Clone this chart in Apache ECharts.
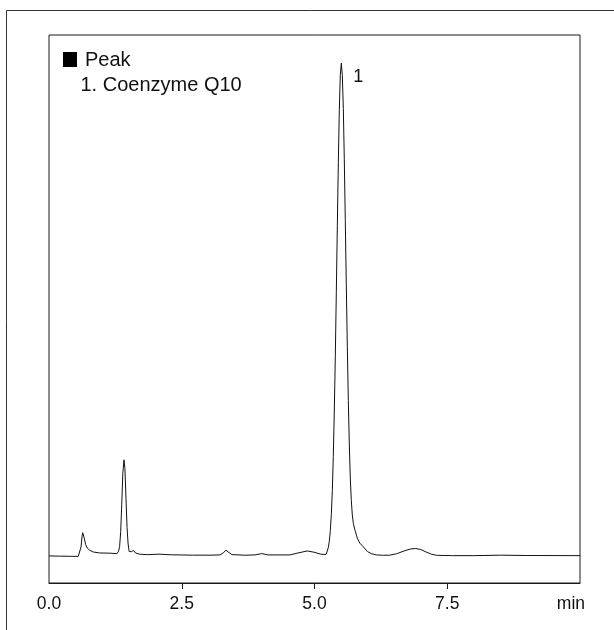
<!DOCTYPE html>
<html>
<head>
<meta charset="utf-8">
<title>Coenzyme Q10</title>
<script src="https://cdn.jsdelivr.net/npm/echarts@6/dist/echarts.min.js"></script>
<style>
    html, body { margin: 0; padding: 0; background: #fff; }
    #chart { width: 614px; height: 630px; }
</style>
</head>
<body>
<div id="chart"></div>
<script>
    // retention time (min) and detector signal (arbitrary, main peak = 100)
    const timeMin = [
        0.00, 0.20, 0.40, 0.55, 0.584, 0.603, 0.622, 0.635, 0.650, 0.668,
        0.690, 0.720, 0.760, 0.830, 0.950, 1.150, 1.280, 1.310, 1.330, 1.350,
        1.370, 1.390, 1.412, 1.430, 1.450, 1.470, 1.490, 1.510, 1.550, 1.590,
        1.630, 1.700, 1.850, 2.070, 2.300, 2.700, 3.050, 3.220, 3.280, 3.333,
        3.390, 3.446, 3.690, 3.880, 4.006, 4.124, 4.540, 4.670, 4.864, 4.990,
        5.120, 5.217, 5.241, 5.260, 5.279, 5.298, 5.317, 5.336, 5.354, 5.373,
        5.392, 5.411, 5.430, 5.449, 5.467, 5.486, 5.505, 5.524, 5.543, 5.561,
        5.580, 5.599, 5.618, 5.637, 5.656, 5.674, 5.693, 5.712, 5.731, 5.763,
        5.806, 5.853, 5.914, 5.995, 6.070, 6.164, 6.300, 6.420, 6.550, 6.700,
        6.800, 6.900, 7.000, 7.100, 7.200, 7.300, 7.600, 8.000, 8.500, 9.000,
        10.00
    ];
    const signal = [
        0.00, -0.05, -0.08, -0.10, 0.2, 1.8, 3.9, 4.7, 4.4, 3.4,
        2.3, 1.6, 1.2, 0.8, 0.6, 0.55, 0.45, 0.95, 1.9, 4.9,
        10.4, 16.7, 19.5, 17.7, 11.7, 5.8, 2.4, 0.9, 0.85, 1.1,
        0.6, 0.35, 0.25, 0.35, 0.22, 0.15, 0.15, 0.2, 0.6, 1.16,
        0.67, 0.26, 0.14, 0.2, 0.47, 0.2, 0.2, 0.55, 1.0, 0.75,
        0.34, 0.3, 1.0, 1.7, 3.0, 5.1, 8.4, 13.3, 20.2, 29.4,
        40.6, 53.5, 67.0, 79.8, 90.5, 97.6, 100, 97.5, 90.8, 80.5,
        68.0, 55.0, 42.5, 31.5, 22.5, 15.8, 11.3, 8.3, 6.6, 5.2,
        3.6, 2.6, 1.9, 0.9, 0.45, 0.2, 0.12, 0.15, 0.45, 1.05,
        1.38, 1.5, 1.3, 0.8, 0.35, 0.12, 0.05, 0.05, 0.15, 0.08,
        0.05
    ];
    const tickLabels = [0, 2.5, 5, 7.5];
    const tickMarks = [2.5, 5, 7.5];
    const peaks = [{ no: '1', name: 'Coenzyme Q10', time: 5.505, height: 100 }];

    const font = '"Liberation Sans", Arial, sans-serif';
    const chart = echarts.init(document.getElementById('chart'));

    chart.setOption({
        animation: false,
        grid: {
            left: 49,
            right: 34,
            top: 35,
            bottom: 47,
            show: true,
            borderColor: '#1a1a1a',
            borderWidth: 1
        },
        xAxis: {
            type: 'value',
            min: 0,
            max: 10,
            interval: 2.5,
            splitLine: { show: false },
            axisLine: { show: true, onZero: false, lineStyle: { color: '#1a1a1a', width: 1 } },
            axisTick: {
                show: true,
                inside: false,
                length: 6,
                customValues: tickMarks,
                lineStyle: { color: '#1a1a1a' }
            },
            axisLabel: {
                customValues: tickLabels,
                formatter: v => v.toFixed(1),
                fontFamily: font,
                fontSize: 17.5,
                color: '#111',
                margin: 12
            }
        },
        yAxis: {
            type: 'value',
            min: -5.5,
            max: 105.7,
            show: false,
            splitLine: { show: false }
        },
        graphic: [
            {
                type: 'rect',
                shape: { x: 6.5, y: 10.5, width: 800, height: 800 },
                style: { fill: 'none', stroke: '#333', lineWidth: 1 },
                silent: true
            },
            {
                type: 'rect',
                shape: { x: 63, y: 52, width: 14, height: 15 },
                style: { fill: '#000' }
            },
            {
                type: 'text',
                x: 85,
                y: 60,
                style: { text: 'Peak', font: '20px ' + font, fill: '#111', verticalAlign: 'middle' }
            },
            {
                type: 'text',
                x: 80.5,
                y: 85,
                style: {
                    text: peaks.map(p => p.no + '. ' + p.name).join('\n'),
                    font: '20px ' + font,
                    fill: '#111',
                    verticalAlign: 'middle'
                }
            },
            {
                type: 'text',
                x: 585,
                y: 604,
                style: { text: 'min', font: '17.5px ' + font, fill: '#111', align: 'right', verticalAlign: 'middle' }
            }
        ],
        series: [{
            type: 'line',
            data: timeMin.map((t, i) => [t, signal[i]]),
            showSymbol: false,
            smooth: false,
            lineStyle: { color: '#111', width: 1 },
            markPoint: {
                symbol: 'circle',
                symbolSize: 0,
                data: peaks.map(p => ({ coord: [p.time, p.height], value: p.no })),
                label: {
                    show: true,
                    formatter: '{c}',
                    offset: [17, 14],
                    fontFamily: font,
                    fontSize: 18,
                    color: '#111'
                }
            }
        }]
    });
</script>
</body>
</html>
